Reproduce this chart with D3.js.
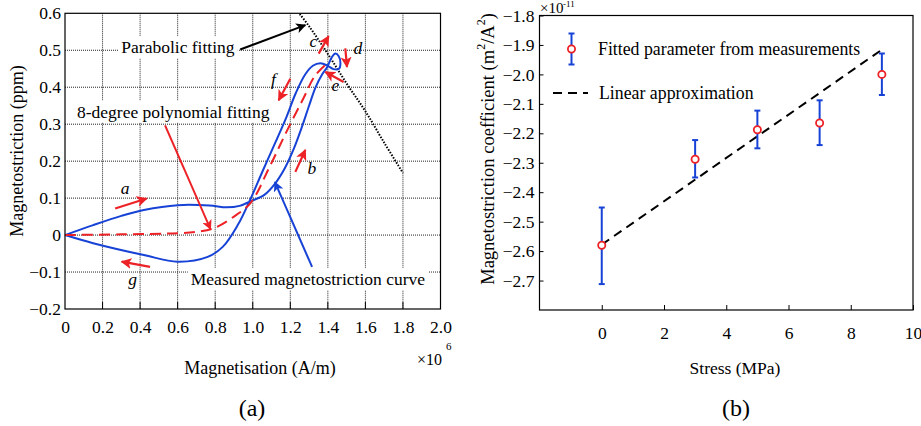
<!DOCTYPE html>
<html>
<head>
<meta charset="utf-8">
<script src="https://cdn.jsdelivr.net/npm/d3@7"></script>
<style>
  body { margin: 0; background: #fff; }
  text { font-family: "Liberation Serif", "Times New Roman", serif; fill: #000; }
</style>
</head>
<body>
<div id="chart"></div>
<script>
// ---- data: panel (a), magnetisation in 1e6 A/m, magnetostriction in ppm
var measuredM = [0, 0.15, 0.3, 0.42, 0.6, 0.77, 0.86, 0.93, 0.99, 1.06, 1.12, 1.17, 1.22, 1.26, 1.30, 1.335, 1.37, 1.397,
                 1.42, 1.44, 1.458, 1.467, 1.46, 1.43, 1.40, 1.36, 1.32, 1.28, 1.23, 1.18, 1.12, 1.05, 0.99, 0.92, 0.84,
                 0.76, 0.6, 0.42, 0.15, 0];
var measuredL = [0, 0.027, 0.052, 0.068, 0.081, 0.080, 0.075, 0.079, 0.092, 0.108, 0.14, 0.18, 0.235, 0.29, 0.35, 0.40, 0.435, 0.455,
                 0.48, 0.491, 0.484, 0.465, 0.45, 0.449, 0.458, 0.465, 0.458, 0.435, 0.385, 0.32, 0.25, 0.17, 0.1, 0.027, -0.032,
                 -0.059, -0.072, -0.054, -0.022, 0];
var polyM = [0, 0.3, 0.6, 0.7, 0.79, 0.9, 0.99, 1.09, 1.18, 1.27, 1.33, 1.39];
var polyL = [0, 0.002, 0.005, 0.009, 0.018, 0.05, 0.088, 0.185, 0.28, 0.37, 0.43, 0.462];
var paraM = [1.25, 1.3, 1.4, 1.5, 1.6, 1.7, 1.8];
var paraL = [0.598, 0.565, 0.49, 0.41, 0.335, 0.25, 0.168];
var magTicks = [0, 0.2, 0.4, 0.6, 0.8, 1.0, 1.2, 1.4, 1.6, 1.8, 2.0];
var lambdaTicks = [-0.2, -0.1, 0, 0.1, 0.2, 0.3, 0.4, 0.5, 0.6];

// direction arrows a..g  [x1, y1, x2, y2] and their letters
var dirArrows = [[0.267, 0.072, 0.435, 0.099], [1.227, 0.171, 1.28, 0.23], [1.351, 0.491, 1.404, 0.538],
                 [1.493, 0.505, 1.502, 0.455], [1.484, 0.414, 1.387, 0.441], [1.2, 0.423, 1.138, 0.365],
                 [0.453, -0.086, 0.302, -0.072]];
var dirLetters = ["a", "b", "c", "d", "e", "f", "g"];
var letterM = [0.32, 1.315, 1.323, 1.56, 1.44, 1.11, 0.36];
var letterL = [0.11, 0.165, 0.51, 0.49, 0.39, 0.405, -0.135];

// ---- data: panel (b)
var stress = [0, 3, 5, 7, 9];
var coeff = [-2.58, -2.288, -2.188, -2.165, -2.0];
var errLow = [-2.712, -2.35, -2.251, -2.24, -2.07];
var errHigh = [-2.452, -2.223, -2.123, -2.088, -1.929];
var fitStress = [0, 9];
var fitCoeff = [-2.578, -1.916];
var stressTicks = [0, 2, 4, 6, 8, 10];
var coeffTicks = [-2.7, -2.6, -2.5, -2.4, -2.3, -2.2, -2.1, -2.0, -1.9, -1.8];

var blue = "#1742d6", red = "#ec2227";
var fs = 17.5;

var svg = d3.select("#chart").append("svg")
    .attr("width", 921).attr("height", 426);

var defs = svg.append("defs");
function marker(id, color) {
  defs.append("marker").attr("id", id)
      .attr("viewBox", "0 0 10 10").attr("refX", 9).attr("refY", 5)
      .attr("markerWidth", 5).attr("markerHeight", 5)
      .attr("markerUnits", "strokeWidth").attr("orient", "auto")
    .append("path").attr("d", "M0,0 L10,5 L0,10 L2.5,5 Z").attr("fill", color);
}
marker("hRed", red); marker("hBlue", blue); marker("hBlack", "#000");

// ================= panel (a)
var x = d3.scaleLinear().domain([0, 2]).range([65, 440.5]);
var y = d3.scaleLinear().domain([-0.2, 0.6]).range([309, 13.3]);

var gA = svg.append("g");

// grid
gA.selectAll(".vg").data(magTicks.slice(1, -1)).enter().append("line")
    .attr("x1", d => x(d)).attr("x2", d => x(d)).attr("y1", y(0.6)).attr("y2", y(-0.2))
    .attr("stroke", "#222").attr("stroke-width", 1).attr("stroke-dasharray", "1,1");
gA.selectAll(".hg").data(lambdaTicks.slice(1, -1)).enter().append("line")
    .attr("x1", x(0)).attr("x2", x(2)).attr("y1", d => y(d)).attr("y2", d => y(d))
    .attr("stroke", "#222").attr("stroke-width", 1).attr("stroke-dasharray", "1,1");

// white boxes behind the annotation labels
function boxLabel(g, tx, ty, str, size) {
  var t = g.append("text").attr("x", tx).attr("y", ty).attr("font-size", size).text(str);
  var b = t.node().getBBox();
  g.insert("rect", "text:last-child").attr("x", b.x - 3).attr("y", b.y - 1)
      .attr("width", b.width + 6).attr("height", b.height + 2).attr("fill", "#fff");
  return t;
}

// axes
var xAxisA = d3.axisBottom(x).tickValues(magTicks).tickSize(0).tickPadding(12)
    .tickFormat(d => d === 0 ? "0" : d3.format(".1f")(d));
gA.append("g").attr("transform", "translate(0," + y(-0.2) + ")").call(xAxisA)
    .attr("font-family", "Liberation Serif")
    .call(g => g.select(".domain").remove())
    .selectAll("text").attr("font-size", fs);
var yAxisA = d3.axisLeft(y).tickValues(lambdaTicks).tickSize(0).tickPadding(4)
    .tickFormat(d => d === 0 ? "0" : d3.format(".1f")(d));
gA.append("g").attr("transform", "translate(" + x(0) + ",0)").call(yAxisA)
    .attr("font-family", "Liberation Serif")
    .call(g => g.select(".domain").remove())
    .selectAll("text").attr("font-size", fs);

// curves
var lineA = d3.line().x(d => x(d[0])).y(d => y(d[1])).curve(d3.curveCatmullRom.alpha(0.5));
gA.append("path").datum(paraM.map((m, i) => [m, paraL[i]]))
    .attr("d", lineA).attr("fill", "none").attr("stroke", "#000")
    .attr("stroke-width", 2).attr("stroke-dasharray", "1.5,1.5");
gA.append("path").datum(measuredM.map((m, i) => [m, measuredL[i]]))
    .attr("d", lineA).attr("fill", "none").attr("stroke", blue).attr("stroke-width", 2);
gA.append("path").datum(polyM.map((m, i) => [m, polyL[i]]))
    .attr("d", lineA).attr("fill", "none").attr("stroke", red)
    .attr("stroke-width", 2).attr("stroke-dasharray", "11,6");

// annotation labels
var gLab = gA.append("g");
boxLabel(gLab, x(0.3), y(0.492), "Parabolic fitting", fs);
boxLabel(gLab, x(0.064), y(0.318), "8-degree polynomial fitting", fs);
boxLabel(gLab, x(0.67), y(-0.135), "Measured magnetostriction curve", fs);

// annotation arrows
function arrow(g, a, color, id, w) {
  g.append("line").attr("x1", x(a[0])).attr("y1", y(a[1])).attr("x2", x(a[2])).attr("y2", y(a[3]))
      .attr("stroke", color).attr("stroke-width", w).attr("marker-end", "url(#" + id + ")");
}
arrow(gA, [0.933, 0.502, 1.28, 0.568], "#000", "hBlack", 2);
arrow(gA, [0.533, 0.297, 0.775, 0.016], red, "hRed", 2);
arrow(gA, [1.316, -0.086, 1.118, 0.143], blue, "hBlue", 2);
dirArrows.forEach(a => arrow(gA, a, red, "hRed", 2.2));

gA.selectAll(".lt").data(dirLetters).enter().append("text")
    .attr("x", (d, i) => x(letterM[i])).attr("y", (d, i) => y(letterL[i]))
    .attr("font-size", fs).attr("font-style", "italic").attr("text-anchor", "middle")
    .text(d => d);

// frame
gA.append("rect").attr("x", x(0)).attr("y", y(0.6)).attr("width", x(2) - x(0)).attr("height", y(-0.2) - y(0.6))
    .attr("fill", "none").attr("stroke", "#000").attr("stroke-width", 1.2);
gA.selectAll(".bt").data(magTicks.slice(1, -1)).enter().append("line")
    .attr("x1", d => x(d)).attr("x2", d => x(d)).attr("y1", y(-0.2)).attr("y2", y(-0.2) - 7)
    .attr("stroke", "#000");

gA.append("text").attr("x", 260).attr("y", 374).attr("text-anchor", "middle").attr("font-size", 18)
    .text("Magnetisation (A/m)");
gA.append("text").attr("x", 417).attr("y", 365).attr("font-size", 16).text("\u00d710");
gA.append("text").attr("x", 446).attr("y", 350).attr("font-size", 11).text("6");
gA.append("text").attr("transform", "translate(23,151) rotate(-90)").attr("text-anchor", "middle")
    .attr("font-size", 18).text("Magnetostriction (ppm)");
gA.append("text").attr("x", 252).attr("y", 416).attr("text-anchor", "middle").attr("font-size", 24).text("(a)");

// ================= panel (b)
var xs = d3.scaleLinear().domain([-2, 10]).range([539.5, 913]);
var ys = d3.scaleLinear().domain([-2.8, -1.8]).range([310, 15.5]);
var gB = svg.append("g");

var xAxisB = d3.axisBottom(xs).tickValues(stressTicks).tickSizeInner(-5).tickSizeOuter(0).tickPadding(17);
gB.append("g").attr("transform", "translate(0," + ys(-2.8) + ")").call(xAxisB)
    .attr("font-family", "Liberation Serif")
    .call(g => g.select(".domain").remove())
    .selectAll("text").attr("font-size", fs);
var yAxisB = d3.axisLeft(ys).tickValues(coeffTicks).tickSizeInner(-4).tickSizeOuter(0).tickPadding(5)
    .tickFormat(d3.format(".1f"));
gB.append("g").attr("transform", "translate(" + xs(-2) + ",0)").call(yAxisB)
    .attr("font-family", "Liberation Serif")
    .call(g => g.select(".domain").remove())
    .selectAll("text").attr("font-size", fs);

gB.append("rect").attr("x", xs(-2)).attr("y", ys(-1.8)).attr("width", xs(10) - xs(-2)).attr("height", ys(-2.8) - ys(-1.8))
    .attr("fill", "none").attr("stroke", "#000").attr("stroke-width", 1.2);

// linear fit
gB.append("line").attr("x1", xs(fitStress[0])).attr("y1", ys(fitCoeff[0]))
    .attr("x2", xs(fitStress[1])).attr("y2", ys(fitCoeff[1]))
    .attr("stroke", "#000").attr("stroke-width", 2).attr("stroke-dasharray", "9,6");

// error bars
var eb = gB.selectAll(".eb").data(stress).enter().append("g");
eb.append("line").attr("x1", d => xs(d)).attr("x2", d => xs(d))
    .attr("y1", (d, i) => ys(errLow[i])).attr("y2", (d, i) => ys(errHigh[i]))
    .attr("stroke", blue).attr("stroke-width", 2);
eb.append("line").attr("x1", d => xs(d) - 3).attr("x2", d => xs(d) + 3)
    .attr("y1", (d, i) => ys(errLow[i])).attr("y2", (d, i) => ys(errLow[i]))
    .attr("stroke", blue).attr("stroke-width", 2);
eb.append("line").attr("x1", d => xs(d) - 3).attr("x2", d => xs(d) + 3)
    .attr("y1", (d, i) => ys(errHigh[i])).attr("y2", (d, i) => ys(errHigh[i]))
    .attr("stroke", blue).attr("stroke-width", 2);
eb.append("circle").attr("cx", d => xs(d)).attr("cy", (d, i) => ys(coeff[i])).attr("r", 3.6)
    .attr("fill", "#fff").attr("stroke", red).attr("stroke-width", 1.8);

// legend
var lg = gB.append("g");
lg.append("line").attr("x1", 571.5).attr("x2", 571.5).attr("y1", 33.5).attr("y2", 64.5)
    .attr("stroke", blue).attr("stroke-width", 2);
lg.append("line").attr("x1", 568.5).attr("x2", 574.5).attr("y1", 33.5).attr("y2", 33.5).attr("stroke", blue).attr("stroke-width", 2);
lg.append("line").attr("x1", 568.5).attr("x2", 574.5).attr("y1", 64.5).attr("y2", 64.5).attr("stroke", blue).attr("stroke-width", 2);
lg.append("circle").attr("cx", 571.5).attr("cy", 49).attr("r", 3.6).attr("fill", "#fff")
    .attr("stroke", red).attr("stroke-width", 1.8);
lg.append("text").attr("x", 598).attr("y", 55).attr("font-size", 17.8).text("Fitted parameter from measurements");
lg.append("line").attr("x1", 553).attr("x2", 588).attr("y1", 93).attr("y2", 93)
    .attr("stroke", "#000").attr("stroke-width", 2).attr("stroke-dasharray", "9,6");
lg.append("text").attr("x", 599).attr("y", 99).attr("font-size", 17.8).text("Linear approximation");

gB.append("text").attr("x", 735).attr("y", 374).attr("text-anchor", "middle").attr("font-size", 17.5)
    .text("Stress (MPa)");
gB.append("text").attr("x", 540).attr("y", 13).attr("font-size", 15).text("\u00d710");
gB.append("text").attr("x", 563).attr("y", 7).attr("font-size", 9).text("-11");
var yl = gB.append("text").attr("transform", "translate(494,149) rotate(-90)").attr("text-anchor", "middle")
    .attr("font-size", 18.5);
yl.append("tspan").text("Magnetostriction coefficient (m");
yl.append("tspan").attr("font-size", 12).attr("dy", -9).text("2");
yl.append("tspan").attr("dy", 9).text("/A");
yl.append("tspan").attr("font-size", 12).attr("dy", -9).text("2");
yl.append("tspan").attr("dy", 9).text(")");
gB.append("text").attr("x", 736).attr("y", 416).attr("text-anchor", "middle").attr("font-size", 24).text("(b)");
</script>
</body>
</html>
